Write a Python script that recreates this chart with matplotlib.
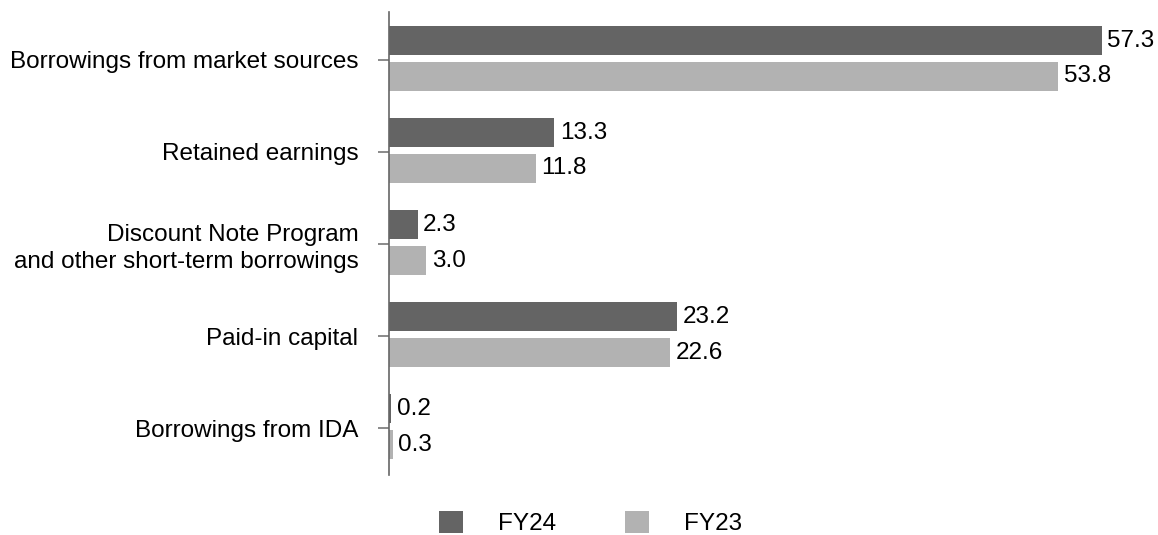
import numpy as np
import matplotlib.pyplot as plt

plt.rcParams['font.family'] = ['Liberation Sans', 'DejaVu Sans']

# ==== Data ====
categories = ["Borrowings from market sources", "Retained earnings",
              "Discount Note Program\nand other short-term borrowings",
              "Paid-in capital", "Borrowings from IDA"]
fy24 = [57.3, 13.3, 2.3, 23.2, 0.2]
fy23 = [53.8, 11.8, 3.0, 22.6, 0.3]

c24 = "#646464"
c23 = "#b2b2b2"
fs = 17.5

# ==== Plot ====
fig = plt.figure(figsize=(11.58, 5.35), dpi=100)
ax = fig.add_axes([389 / 1158, 1 - 475 / 535, (1150 - 389) / 1158, 463 / 535])

y = np.arange(len(categories))
h = 0.31
b1 = ax.barh(y - 0.21, fy24, height=h, color=c24, label="FY24")
b2 = ax.barh(y + 0.18, fy23, height=h, color=c23, label="FY23")

for bars, vals in [(b1, fy24), (b2, fy23)]:
    for bar, v in zip(bars, vals):
        ax.annotate(f"{v:.1f}", (v, bar.get_y() + bar.get_height() / 2),
                    xytext=(4, 0), textcoords="offset points",
                    va="center", ha="left", fontsize=fs)

ax.set_xlim(0, 61.2)
ax.set_ylim(4.51, -0.52)
ax.set_yticks(y)
ax.set_yticklabels(categories, fontsize=fs, ha="right", multialignment="right",
                   linespacing=1.25)
ax.tick_params(axis="y", length=8, width=1.2, color="#777777", pad=14)
ax.set_xticks([])
for s in ["top", "right", "bottom"]:
    ax.spines[s].set_visible(False)
ax.spines["left"].set_color("#666666")
ax.spines["left"].set_linewidth(1.2)

fig.legend(handles=[b1, b2], loc="center", bbox_to_anchor=(0.51, 0.022),
           ncol=2, frameon=False, fontsize=fs, handlelength=1.0, handleheight=1.0,
           handletextpad=1.45, columnspacing=2.8)

fig.savefig("out.png", dpi=100)
